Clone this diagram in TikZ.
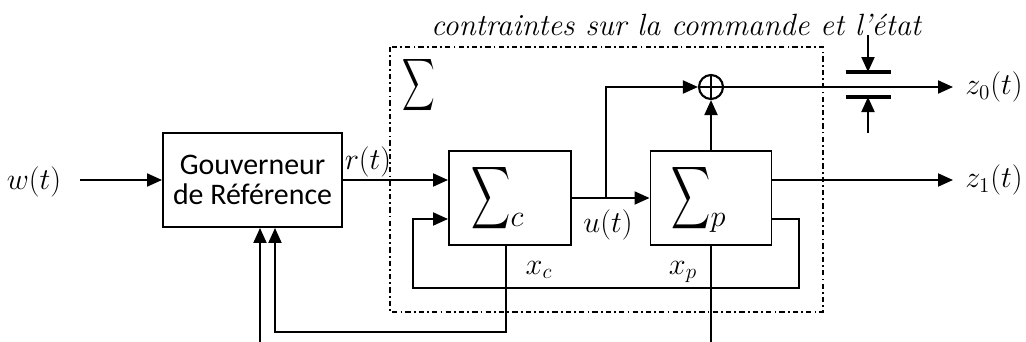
\documentclass[tikz,border=0pt]{standalone}
\usepackage{amsmath}
\usepackage{fontspec}
\newfontfamily\calibfont{Carlito}
\usetikzlibrary{arrows.meta,positioning}
\newcommand{\sigmaetroit}{\scalebox{0.62}[1]{$\displaystyle\sum$}}

\begin{document}
\begin{tikzpicture}[
  bloc/.style={draw, line width=1.1pt, align=center, inner sep=0pt,
               minimum height=1.88cm},
  arr/.style={-{Triangle[length=0.3cm,width=0.26cm]}, line width=1.1pt},
  lien/.style={line width=1.1pt},
  barre/.style={line width=2.2pt},
  cadre/.style={line width=0.9pt, dash pattern=on 3pt off 1.8pt on 1pt off 1.8pt},
  lbl/.style={font=\fontsize{17.5}{20}\selectfont, inner sep=0pt},
]
  \useasboundingbox (0,0) rectangle (20.52,-6.84);

  %% ---- blocs ----
  \node[bloc, minimum width=3.58cm,
        font=\calibfont\fontsize{17}{17.2}\selectfont] (gouv) at (5.05,-3.6)
    {Gouverneur\\de Référence};
  \node[bloc, minimum width=2.44cm, font=\fontsize{23}{27}\selectfont]
    (sysc) at (10.2,-3.96)
    {\sigmaetroit\raisebox{-0.36cm}{\fontsize{17.5}{20}\selectfont$c$}\hspace*{0.5cm}};
  \node[bloc, minimum width=2.42cm, font=\fontsize{23}{27}\selectfont]
    (sysp) at (14.22,-3.96)
    {\sigmaetroit\raisebox{-0.36cm}{\fontsize{17.5}{20}\selectfont$p$}\hspace*{0.5cm}};
  \node[draw, circle, line width=1.2pt, minimum size=0.48cm, inner sep=0pt]
    (somme) at (14.22,-1.74) {};
  \draw[lien] (somme.north) -- (somme.south) (somme.west) -- (somme.east);

  %% ---- cadre Sigma ----
  \draw[cadre] (7.8,-0.94) rectangle (16.46,-6.24);
  \node[font=\fontsize{20}{24}\selectfont, inner sep=0pt] (sigma) at (8.38,-1.7)
    {\sigmaetroit};
  \node[font=\fontsize{17.5}{20}\selectfont\itshape, inner sep=0pt] (titre)
    at (13.52,-0.5) {contraintes sur la commande et l'état};

  %% ---- labels ----
  \node[lbl] (wlab) at (0.68,-3.64) {$w(t)$};
  \node[lbl] (rlab) at (7.36,-3.24) {$r(t)$};
  \node[lbl] (ulab) at (12.16,-4.5) {$u(t)$};
  \node[lbl] (xclab) at (10.78,-5.4) {$x_c$};
  \node[lbl] (xplab) at (13.66,-5.44) {$x_p$};
  \node[lbl, anchor=west] (zzero) at (19.3,-1.74) {$z_0(t)$};
  \node[lbl, anchor=west] (zun) at (19.3,-3.6) {$z_1(t)$};

  %% ---- points libres ----
  \coordinate (w) at (1.6,-3.6);
  \coordinate (br) at (12.12,-3.96);
  \coordinate (retp) at (15.98,-5.76);
  \coordinate (retc) at (8.26,-5.76);
  \coordinate (basc) at (10.12,-6.64);
  \coordinate (entg) at (5.2,-6.84);
  \coordinate (entp) at (14.2,-6.84);
  \coordinate (bh) at (17.36,-1.44);
  \coordinate (bb) at (17.36,-1.94);
  \coordinate (ch) at (17.36,-0.7);
  \coordinate (cb) at (17.36,-2.66);

  %% ---- liaisons ----
  \draw[arr] (w) -- (gouv.west);
  \draw[arr] (gouv.east) -- (gouv.east -| sysc.west);
  \draw[arr] (sysc.east) -- (sysp.west);
  \draw[arr] (br) |- (somme.west);
  \draw[arr] (sysp.north) -- (somme.south);
  \draw[arr, shorten >=0.24cm] (somme.east) -- (zzero.west);
  \draw[arr, shorten >=0.24cm] (zun.west -| sysp.east) -- (zun.west);
  \draw[arr] ([yshift=-0.42cm]sysp.east) -| (retp) -- (retc)
    |- ([yshift=-0.42cm]sysc.west);
  \draw[arr] ([xshift=-0.08cm]sysc.south) -- (basc)
    -| ([xshift=0.45cm]gouv.south);
  \draw[arr] (entg) -- ([xshift=0.15cm]gouv.south);
  \draw[lien] (sysp.south) -- (sysp.south |- entp);

  %% ---- contraintes ----
  \draw[barre] ([xshift=-0.45cm]bh) -- ([xshift=0.45cm]bh);
  \draw[barre] ([xshift=-0.45cm]bb) -- ([xshift=0.45cm]bb);
  \draw[arr] (ch) -- (bh);
  \draw[arr] (cb) -- (bb);
\end{tikzpicture}
\end{document}
